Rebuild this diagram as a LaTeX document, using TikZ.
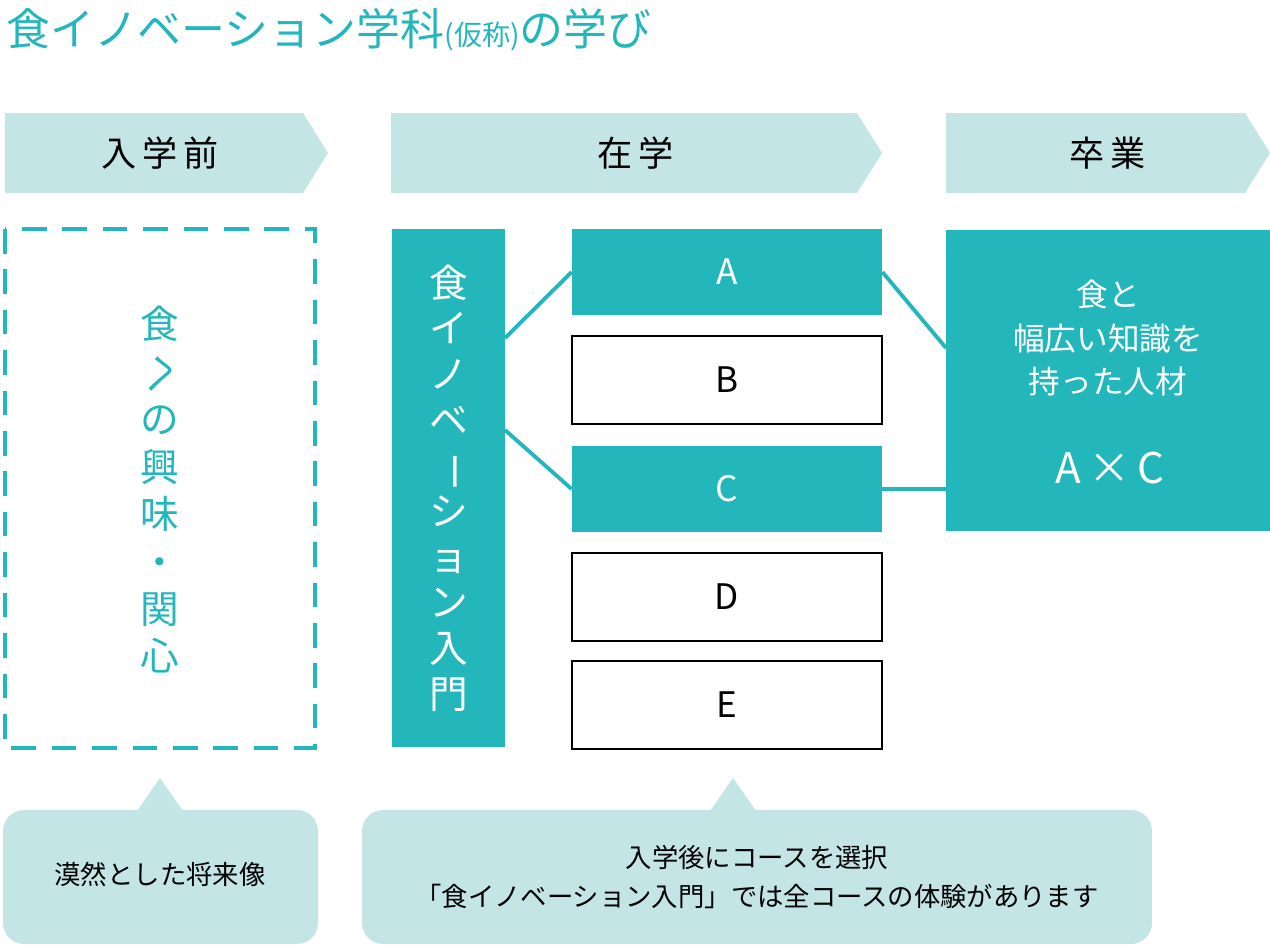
\documentclass[tikz,border=0pt]{standalone}
\usepackage{fontspec}
\setmainfont{Noto Sans CJK JP}
\usetikzlibrary{positioning, arrows.meta}
\definecolor{teal1}{HTML}{23B7BC}
\definecolor{pale}{HTML}{C4E5E5}
\newcommand{\vbar}{\rotatebox[origin=c]{-90}{ー}}

\begin{document}
\begin{tikzpicture}[
    x=0.02cm, y=-0.02cm,
    banner/.style={fill=pale},
    fullbox/.style={fill=teal1, text=white, font=\fontsize{20}{24}\selectfont},
    openbox/.style={draw=black, line width=1.2pt, fill=white, font=\fontsize{20}{24}\selectfont},
    link/.style={draw=teal1, line width=2.2pt},
    note/.style={fill=pale, rounded corners=12pt},
    btext/.style={font=\fontsize{20}{24}\selectfont},
]
\useasboundingbox (0,0) rectangle (1270,946);

% Title
\node[anchor=west, text=teal1, font=\fontsize{25}{30}\selectfont] (title) at (0,30)
    {食イノベーション学科{\fontsize{16}{20}\selectfont(仮称)}の学び};

% Banners
\fill[banner] (5,113) -- (303,113) -- (328,153) -- (303,193) -- (5,193) -- cycle;
\fill[banner] (391,113) -- (857,113) -- (882,153) -- (857,193) -- (391,193) -- cycle;
\fill[banner] (946,113) -- (1245,113) -- (1270,153) -- (1245,193) -- (946,193) -- cycle;
\node[btext] (before) at (160,153) {入\,学\,前};
\node[btext] (during) at (636,153) {在\,学};
\node[btext] (after) at (1108,153) {卒\,業};

% Before entry
\draw[teal1, line width=2.5pt, dash pattern=on 14pt off 9pt] (5,229) rectangle (315,748);
\node[text=teal1, align=center, font=\fontsize{22}{27}\selectfont] (interest) at (160,490)
    {食\\\rotatebox[origin=c]{-90}{へ}\\の\\興\\味\\・\\関\\心};

% Intro course
\node[fullbox, minimum width=113*0.02cm, minimum height=518*0.02cm] (intro) at (448.5,488) {};
\node[text=white, align=center, font=\fontsize{22}{26}\selectfont] (introtext) at (intro)
    {食\\イ\\ノ\\ベ\\\vbar\\シ\\ョ\\ン\\入\\門};

% Courses
\node[fullbox, minimum width=310*0.02cm, minimum height=86*0.02cm] (ca) at (727,272) {A};
\node[openbox, minimum width=310*0.02cm, minimum height=88*0.02cm] (cb) at (727,380) {B};
\node[fullbox, minimum width=310*0.02cm, minimum height=86*0.02cm] (cc) at (727,489) {C};
\node[openbox, minimum width=310*0.02cm, minimum height=88*0.02cm] (cd) at (727,597) {D};
\node[openbox, minimum width=310*0.02cm, minimum height=88*0.02cm] (ce) at (727,705) {E};

% Graduate
\node[fill=teal1, minimum width=324*0.02cm, minimum height=301*0.02cm] (grad) at (1108,380) {};
\node[text=white, align=center, font=\fontsize{18}{25}\selectfont] (gradtext) at (1108,338)
    {食と\\幅広い知識を\\持った人材};
\node[text=white, font=\fontsize{24}{28}\selectfont] (axc) at (1110,468) {A\,×\,C};

% Connectors
\coordinate (i1) at (505,338);
\coordinate (i2) at (505,430);
\coordinate (g1) at (946,348);
\draw[link] (i1) -- (ca.west);
\draw[link] (i2) -- (cc.west);
\draw[link] (ca.east) -- (g1);
\draw[link] (cc.east) -- (cc.east -| grad.west);

% Notes
\fill[note] (3,810) rectangle (318,944);
\fill[pale] (137,811) -- (160,778) -- (183,811) -- cycle;
\node[font=\fontsize{15}{20}\selectfont] (vague) at (160,874) {漠然とした将来像};
\fill[note] (362,810) rectangle (1152,944);
\fill[pale] (710,811) -- (733,778) -- (756,811) -- cycle;
\node[align=center, font=\fontsize{15}{22}\selectfont] (choose) at (757,877)
    {入学後にコースを選択\\「食イノベーション入門」では全コースの体験があります};

\end{tikzpicture}
\end{document}
